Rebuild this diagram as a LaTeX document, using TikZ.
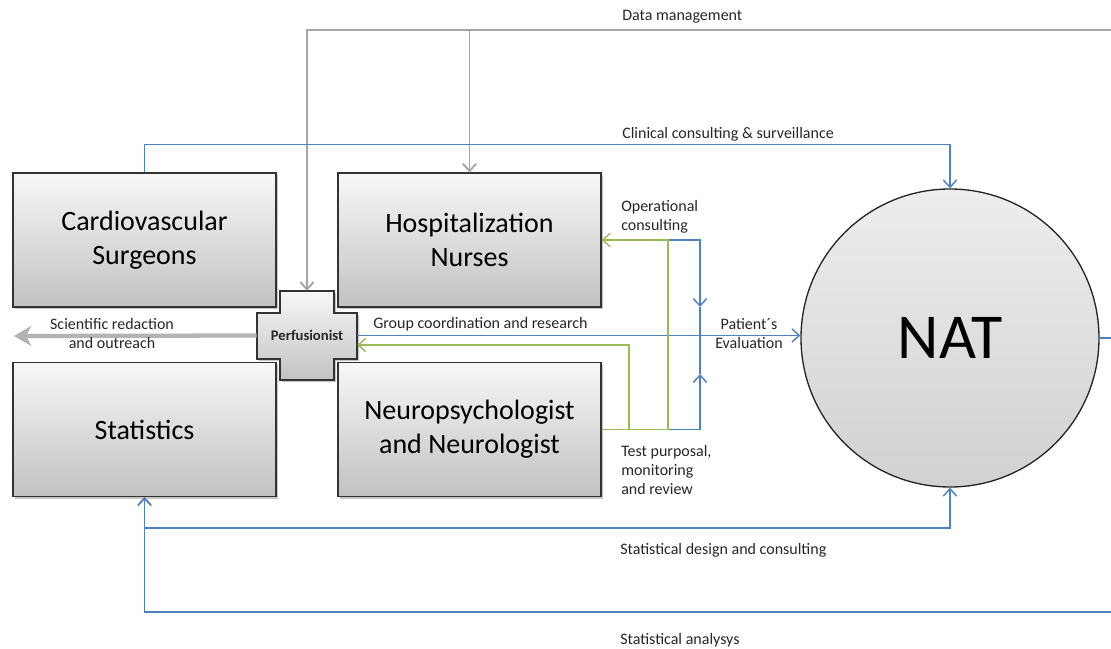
\documentclass[tikz,border=0pt]{standalone}
\usepackage{fontspec}
\setmainfont{Carlito}
\usetikzlibrary{arrows.meta,shadows,calc}
\definecolor{oblue}{HTML}{4F81BD}
\definecolor{ogreen}{HTML}{9BBB59}
\definecolor{ogray}{HTML}{A6A6A6}
\definecolor{txt}{HTML}{262626}
\begin{document}
\begin{tikzpicture}[x=0.75pt,y=-0.75pt,
  bigbox/.style={draw=black!80, line width=0.9pt, top color=gray!6, bottom color=gray!48,
    minimum width=197.25pt, minimum height=100.5pt, inner sep=0pt, align=center,
    text=black, font=\fontsize{21}{25.5}\selectfont,
    drop shadow={shadow xshift=1.5pt,shadow yshift=-1.5pt,opacity=0.45}},
  lbl/.style={inner sep=0pt, text=txt, font=\fontsize{12}{14.4}\selectfont},
  tip/.style={-{Straight Barb[length=5.5pt,width=10pt]}},
  bl/.style={draw=oblue, line width=1.1pt},
  gr/.style={draw=ogreen, line width=1.1pt},
  gy/.style={draw=ogray, line width=1.4pt}
]
\useasboundingbox (0,0) rectangle (1111,649);
\clip (0,0) rectangle (1111,649);

% boxes
\node[bigbox] (cardio) at (144.5,240) {Cardiovascular\\Surgeons};
\node[bigbox] (nurses) at (469.5,240) {Hospitalization\\Nurses};
\node[bigbox] (stats)  at (144.5,429.5) {Statistics};
\node[bigbox] (neuro)  at (469.5,429.5) {Neuropsychologist\\and Neurologist};

% NAT circle
\node[circle, draw=black!85, line width=1pt, top color=gray!14, bottom color=gray!36,
  minimum size=223.5pt, inner sep=0pt, font=\fontsize{48}{50}\selectfont] (nat) at (950,338) {NAT};

% Perfusionist cross
\draw[draw=black!80, line width=0.9pt, top color=gray!6, bottom color=gray!48,
  drop shadow={shadow xshift=1.5pt,shadow yshift=-1.5pt,opacity=0.45}]
  (280,291) -- (334,291) -- (334,313) -- (357,313) -- (357,359) -- (334,359) -- (334,380)
  -- (280,380) -- (280,359) -- (257,359) -- (257,313) -- (280,313) -- cycle;
\node[inner sep=0pt, minimum width=75pt, minimum height=66.75pt,
  font=\fontsize{11}{13}\selectfont\bfseries, text=txt] (perf) at (307,335.5) {Perfusionist};

% Data management (gray)
\coordinate (dmsrc) at (1140,30);
\draw[gy,tip] (dmsrc) -| (perf.north);
\draw[gy,tip] (nurses.north |- 0,30) -- (nurses.north);

% Scientific redaction arrow
\coordinate (sci) at (14,336);
\draw[draw=ogray!85, line width=3.2pt, -{Stealth[inset=4pt,length=13pt,width=15pt]}] (perf.west) -- (sci);

% Clinical consulting
\draw[bl,tip] (cardio.north) -- ++(0,-28) -| (nat.north);

% Group coordination
\draw[bl,tip] (perf.east) -- (perf.east -| nat.west);

% blue verticals into patient's evaluation
\draw[bl,tip] (nurses.east) -| (700,307);
\draw[bl,tip] (neuro.east) -| (700,374);
\draw[bl] (700,307) -- (700,374);

% green
\draw[gr,tip] (neuro.east) -| (668,240) -- (nurses.east);
\draw[gr,tip] (neuro.east) -| (629,345) -- (perf.east |- 0,345);

% statistical design
\draw[bl,tip] (stats.south) ++(0,31) -| (nat.south);
\draw[bl,tip] (stats.south |- 0,528) -- (stats.south);

% statistical analysis
\draw[bl,tip] (nat.east) -- ++(40,0) |- (stats.south |- 0,612) -- (stats.south);

% labels
\node[lbl, anchor=west] (l1) at (622,17) {Data management};
\node[lbl, anchor=west] (l2) at (622,134) {Clinical consulting \& surveillance};
\node[lbl, anchor=west, align=left] (l3) at (621,216.5) {Operational\\consulting};
\node[lbl, anchor=west] (l4) at (373,324) {Group coordination and research};
\node[lbl, align=center] (l5) at (749,333.5) {Patient´s\\Evaluation};
\node[lbl, anchor=west, align=left] (l6) at (621,470) {Test purposal,\\monitoring\\and review};
\node[lbl, anchor=west] (l7) at (620,550) {Statistical design and consulting};
\node[lbl, anchor=west] (l8) at (620,640) {Statistical analysys};
\node[lbl, align=center] (l9) at (112,333.5) {Scientific redaction\\and outreach};
\end{tikzpicture}
\end{document}
